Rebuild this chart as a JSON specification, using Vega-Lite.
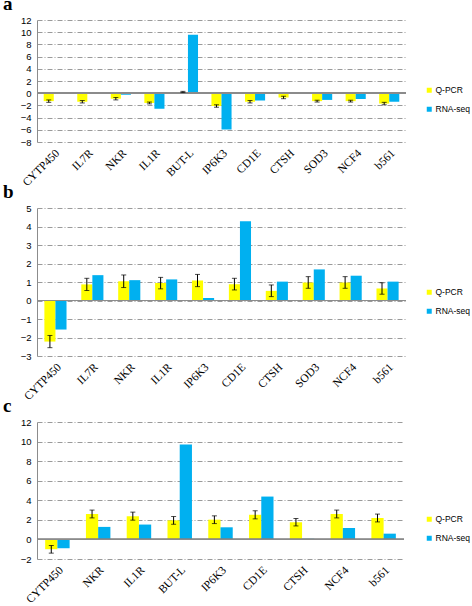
{
  "$schema": "https://vega.github.io/schema/vega-lite/v6.json",
  "padding": {"left": 3, "top": -5, "right": 0, "bottom": 0},
  "background": "white",
  "bounds": "flush",
  "spacing": 66,
  "resolve": {"scale": {"color": "independent", "x": "independent", "y": "independent", "xOffset": "independent"}},
  "config": {
    "view": {"stroke": null},
    "axis": {"labelColor": "#000", "title": null},
    "axisY": {"grid": true, "gridDash": [5, 2, 1, 2], "gridColor": "#9a9a9a", "gridWidth": 1, "domainColor": "#8c8c8c", "ticks": false, "labelPadding": 6, "labelFont": "Liberation Sans", "labelFontSize": 9.5, "labelOverlap": false, "labelFlush": false},
    "axisX": {"labelFont": "Liberation Serif", "labelFontSize": 11.5, "labelAngle": -45, "domain": false, "ticks": false, "labelPadding": 5, "grid": false, "labelOverlap": false},
    "legend": {"orient": "none", "labelFont": "Liberation Sans", "labelFontSize": 8.5, "symbolType": "square", "symbolSize": 25, "symbolStrokeWidth": 0, "rowPadding": 10, "labelOffset": 2, "title": null, "padding": 0},
    "title": {"font": "Liberation Serif", "fontWeight": "bold", "fontSize": 19, "anchor": "start", "frame": "group", "dx": -34, "offset": 1, "baseline": "alphabetic", "color": "#000"}
  },
  "datasets": {
    "a": [
      {"gene": "CYTP450", "series": "Q-PCR", "value": -1.3, "lo": -1.5, "hi": -1.1},
      {"gene": "CYTP450", "series": "RNA-seq", "value": -0.1},
      {"gene": "IL7R", "series": "Q-PCR", "value": -1.4, "lo": -1.6, "hi": -1.2},
      {"gene": "IL7R", "series": "RNA-seq", "value": -0.1},
      {"gene": "NKR", "series": "Q-PCR", "value": -0.9, "lo": -1.1, "hi": -0.7},
      {"gene": "NKR", "series": "RNA-seq", "value": -0.25},
      {"gene": "IL1R", "series": "Q-PCR", "value": -1.6, "lo": -1.75, "hi": -1.45},
      {"gene": "IL1R", "series": "RNA-seq", "value": -2.55},
      {"gene": "BUT-L", "series": "Q-PCR", "value": 0.2, "lo": 0.1, "hi": 0.3},
      {"gene": "BUT-L", "series": "RNA-seq", "value": 9.6},
      {"gene": "IP6K3", "series": "Q-PCR", "value": -2.1, "lo": -2.3, "hi": -1.9},
      {"gene": "IP6K3", "series": "RNA-seq", "value": -5.95},
      {"gene": "CD1E", "series": "Q-PCR", "value": -1.4, "lo": -1.6, "hi": -1.2},
      {"gene": "CD1E", "series": "RNA-seq", "value": -1.2},
      {"gene": "CTSH", "series": "Q-PCR", "value": -0.7, "lo": -0.9, "hi": -0.5},
      {"gene": "CTSH", "series": "RNA-seq", "value": -0.1},
      {"gene": "SOD3", "series": "Q-PCR", "value": -1.3, "lo": -1.45, "hi": -1.15},
      {"gene": "SOD3", "series": "RNA-seq", "value": -1.1},
      {"gene": "NCF4", "series": "Q-PCR", "value": -1.3, "lo": -1.45, "hi": -1.15},
      {"gene": "NCF4", "series": "RNA-seq", "value": -0.95},
      {"gene": "b561", "series": "Q-PCR", "value": -1.7, "lo": -1.9, "hi": -1.5},
      {"gene": "b561", "series": "RNA-seq", "value": -1.4}
    ],
    "b": [
      {"gene": "CYTP450", "series": "Q-PCR", "value": -2.22, "lo": -2.55, "hi": -1.89},
      {"gene": "CYTP450", "series": "RNA-seq", "value": -1.57},
      {"gene": "IL7R", "series": "Q-PCR", "value": 0.87, "lo": 0.54, "hi": 1.2},
      {"gene": "IL7R", "series": "RNA-seq", "value": 1.37},
      {"gene": "NKR", "series": "Q-PCR", "value": 1.04, "lo": 0.7, "hi": 1.38},
      {"gene": "NKR", "series": "RNA-seq", "value": 1.1},
      {"gene": "IL1R", "series": "Q-PCR", "value": 0.94, "lo": 0.63, "hi": 1.25},
      {"gene": "IL1R", "series": "RNA-seq", "value": 1.14},
      {"gene": "IP6K3", "series": "Q-PCR", "value": 1.08, "lo": 0.75, "hi": 1.41},
      {"gene": "IP6K3", "series": "RNA-seq", "value": 0.14},
      {"gene": "CD1E", "series": "Q-PCR", "value": 0.88, "lo": 0.57, "hi": 1.2},
      {"gene": "CD1E", "series": "RNA-seq", "value": 4.29},
      {"gene": "CTSH", "series": "Q-PCR", "value": 0.52, "lo": 0.21, "hi": 0.84},
      {"gene": "CTSH", "series": "RNA-seq", "value": 1.02},
      {"gene": "SOD3", "series": "Q-PCR", "value": 0.97, "lo": 0.66, "hi": 1.29},
      {"gene": "SOD3", "series": "RNA-seq", "value": 1.68},
      {"gene": "NCF4", "series": "Q-PCR", "value": 0.97, "lo": 0.66, "hi": 1.29},
      {"gene": "NCF4", "series": "RNA-seq", "value": 1.34},
      {"gene": "b561", "series": "Q-PCR", "value": 0.65, "lo": 0.34, "hi": 0.96},
      {"gene": "b561", "series": "RNA-seq", "value": 1.02}
    ],
    "c": [
      {"gene": "CYTP450", "series": "Q-PCR", "value": -1.0, "lo": -1.4, "hi": -0.62},
      {"gene": "CYTP450", "series": "RNA-seq", "value": -0.9},
      {"gene": "NKR", "series": "Q-PCR", "value": 2.6, "lo": 2.2, "hi": 3.0},
      {"gene": "NKR", "series": "RNA-seq", "value": 1.28},
      {"gene": "IL1R", "series": "Q-PCR", "value": 2.38, "lo": 1.97, "hi": 2.79},
      {"gene": "IL1R", "series": "RNA-seq", "value": 1.52},
      {"gene": "BUT-L", "series": "Q-PCR", "value": 1.95, "lo": 1.55, "hi": 2.34},
      {"gene": "BUT-L", "series": "RNA-seq", "value": 9.7},
      {"gene": "IP6K3", "series": "Q-PCR", "value": 2.02, "lo": 1.62, "hi": 2.41},
      {"gene": "IP6K3", "series": "RNA-seq", "value": 1.24},
      {"gene": "CD1E", "series": "Q-PCR", "value": 2.52, "lo": 2.1, "hi": 2.93},
      {"gene": "CD1E", "series": "RNA-seq", "value": 4.38},
      {"gene": "CTSH", "series": "Q-PCR", "value": 1.76, "lo": 1.38, "hi": 2.14},
      {"gene": "CTSH", "series": "RNA-seq", "value": 0.07},
      {"gene": "NCF4", "series": "Q-PCR", "value": 2.6, "lo": 2.2, "hi": 3.0},
      {"gene": "NCF4", "series": "RNA-seq", "value": 1.17},
      {"gene": "b561", "series": "Q-PCR", "value": 2.19, "lo": 1.79, "hi": 2.59},
      {"gene": "b561", "series": "RNA-seq", "value": 0.59}
    ]
  },
  "vconcat": [
    {
      "title": {"text": "a"},
      "width": 369, "height": 122,
      "data": {"name": "a"},
      "layer": [
        {"mark": {"type": "bar"},
         "encoding": {
           "x": {"field": "gene", "type": "nominal", "sort": null, "scale": {"paddingInner": 0.4, "paddingOuter": 0.2}},
           "xOffset": {"field": "series", "type": "nominal", "scale": {"domain": ["Q-PCR", "RNA-seq"], "paddingInner": 0, "paddingOuter": 0}},
           "y": {"field": "value", "type": "quantitative", "scale": {"domain": [-8, 12], "nice": false, "zero": false}, "axis": {"values": [-8, -6, -4, -2, 0, 2, 4, 6, 8, 10, 12], "tickCount": 11}},
           "color": {"field": "series", "type": "nominal", "scale": {"domain": ["Q-PCR", "RNA-seq"], "range": ["#FFFF00", "#00B0F0"]}, "legend": {"legendX": 388, "legendY": 66}}
         }},
        {"mark": {"type": "rule", "color": "#8c8c8c", "strokeWidth": 1}, "encoding": {"y": {"datum": 0, "type": "quantitative"}}},
        {"transform": [{"filter": "datum.series === 'Q-PCR'"}],
         "mark": {"type": "rule", "color": "#000", "strokeWidth": 1},
         "encoding": {
           "x": {"field": "gene", "type": "nominal", "sort": null},
           "xOffset": {"field": "series", "type": "nominal"},
           "y": {"field": "lo", "type": "quantitative"},
           "y2": {"field": "hi"}
         }},
        {"transform": [{"filter": "datum.series === 'Q-PCR'"}],
         "mark": {"type": "tick", "color": "#000", "thickness": 1, "size": 5},
         "encoding": {
           "x": {"field": "gene", "type": "nominal", "sort": null},
           "xOffset": {"field": "series", "type": "nominal"},
           "y": {"field": "lo", "type": "quantitative"}
         }},
        {"transform": [{"filter": "datum.series === 'Q-PCR'"}],
         "mark": {"type": "tick", "color": "#000", "thickness": 1, "size": 5},
         "encoding": {
           "x": {"field": "gene", "type": "nominal", "sort": null},
           "xOffset": {"field": "series", "type": "nominal"},
           "y": {"field": "hi", "type": "quantitative"}
         }}
      ]
    },
    {
      "title": {"text": "b"},
      "width": 369, "height": 148,
      "data": {"name": "b"},
      "layer": [
        {"mark": {"type": "bar"},
         "encoding": {
           "x": {"field": "gene", "type": "nominal", "sort": null, "scale": {"paddingInner": 0.4, "paddingOuter": 0.2}},
           "xOffset": {"field": "series", "type": "nominal", "scale": {"domain": ["Q-PCR", "RNA-seq"], "paddingInner": 0, "paddingOuter": 0}},
           "y": {"field": "value", "type": "quantitative", "scale": {"domain": [-3, 5], "nice": false, "zero": false}, "axis": {"values": [-3, -2, -1, 0, 1, 2, 3, 4, 5], "tickCount": 9}},
           "color": {"field": "series", "type": "nominal", "scale": {"domain": ["Q-PCR", "RNA-seq"], "range": ["#FFFF00", "#00B0F0"]}, "legend": {"legendX": 388, "legendY": 80}}
         }},
        {"mark": {"type": "rule", "color": "#8c8c8c", "strokeWidth": 1}, "encoding": {"y": {"datum": 0, "type": "quantitative"}}},
        {"transform": [{"filter": "datum.series === 'Q-PCR'"}],
         "mark": {"type": "rule", "color": "#000", "strokeWidth": 1},
         "encoding": {
           "x": {"field": "gene", "type": "nominal", "sort": null},
           "xOffset": {"field": "series", "type": "nominal"},
           "y": {"field": "lo", "type": "quantitative"},
           "y2": {"field": "hi"}
         }},
        {"transform": [{"filter": "datum.series === 'Q-PCR'"}],
         "mark": {"type": "tick", "color": "#000", "thickness": 1, "size": 5},
         "encoding": {
           "x": {"field": "gene", "type": "nominal", "sort": null},
           "xOffset": {"field": "series", "type": "nominal"},
           "y": {"field": "lo", "type": "quantitative"}
         }},
        {"transform": [{"filter": "datum.series === 'Q-PCR'"}],
         "mark": {"type": "tick", "color": "#000", "thickness": 1, "size": 5},
         "encoding": {
           "x": {"field": "gene", "type": "nominal", "sort": null},
           "xOffset": {"field": "series", "type": "nominal"},
           "y": {"field": "hi", "type": "quantitative"}
         }}
      ]
    },
    {
      "title": {"text": "c"},
      "width": 367, "height": 137,
      "data": {"name": "c"},
      "layer": [
        {"mark": {"type": "bar"},
         "encoding": {
           "x": {"field": "gene", "type": "nominal", "sort": null, "scale": {"paddingInner": 0.4, "paddingOuter": 0.2}},
           "xOffset": {"field": "series", "type": "nominal", "scale": {"domain": ["Q-PCR", "RNA-seq"], "paddingInner": 0, "paddingOuter": 0}},
           "y": {"field": "value", "type": "quantitative", "scale": {"domain": [-2, 12], "nice": false, "zero": false}, "axis": {"values": [-2, 0, 2, 4, 6, 8, 10, 12], "tickCount": 8}},
           "color": {"field": "series", "type": "nominal", "scale": {"domain": ["Q-PCR", "RNA-seq"], "range": ["#FFFF00", "#00B0F0"]}, "legend": {"legendX": 388, "legendY": 93}}
         }},
        {"mark": {"type": "rule", "color": "#8c8c8c", "strokeWidth": 1}, "encoding": {"y": {"datum": 0, "type": "quantitative"}}},
        {"transform": [{"filter": "datum.series === 'Q-PCR'"}],
         "mark": {"type": "rule", "color": "#000", "strokeWidth": 1},
         "encoding": {
           "x": {"field": "gene", "type": "nominal", "sort": null},
           "xOffset": {"field": "series", "type": "nominal"},
           "y": {"field": "lo", "type": "quantitative"},
           "y2": {"field": "hi"}
         }},
        {"transform": [{"filter": "datum.series === 'Q-PCR'"}],
         "mark": {"type": "tick", "color": "#000", "thickness": 1, "size": 5},
         "encoding": {
           "x": {"field": "gene", "type": "nominal", "sort": null},
           "xOffset": {"field": "series", "type": "nominal"},
           "y": {"field": "lo", "type": "quantitative"}
         }},
        {"transform": [{"filter": "datum.series === 'Q-PCR'"}],
         "mark": {"type": "tick", "color": "#000", "thickness": 1, "size": 5},
         "encoding": {
           "x": {"field": "gene", "type": "nominal", "sort": null},
           "xOffset": {"field": "series", "type": "nominal"},
           "y": {"field": "hi", "type": "quantitative"}
         }}
      ]
    }
  ]
}
